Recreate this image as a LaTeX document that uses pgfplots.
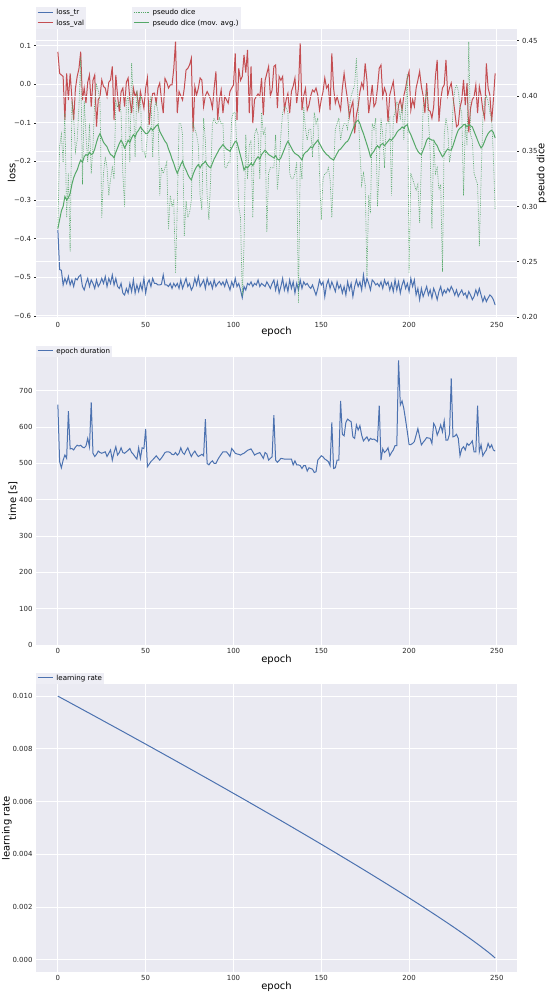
\documentclass[border=0pt]{standalone}
\usepackage{fontspec}
\setmainfont{DejaVu Sans}
\usepackage{pgfplots}
\usepackage{pgfplotstable}
\pgfplotsset{compat=1.18}
\definecolor{bgc}{HTML}{EAEAF2}
\definecolor{legc}{HTML}{EEEEF5}
\definecolor{tc}{HTML}{262626}
\definecolor{cb}{HTML}{4C72B0}
\definecolor{cr}{HTML}{C44E52}
\definecolor{cg}{HTML}{55A868}

\pgfplotstableread{
ep tr val dice ema time
0 -0.377 0.084 0.280 0.280 662
1 -0.480 0.028 0.355 0.288 505
2 -0.482 0.024 0.365 0.296 488
3 -0.520 0.020 0.340 0.300 509
4 -0.503 -0.093 0.385 0.309 523
5 -0.516 0.028 0.290 0.306 514
6 -0.498 -0.041 0.330 0.308 644
7 -0.520 0.028 0.259 0.312 540
8 -0.507 -0.036 0.395 0.320 541
9 -0.524 -0.093 0.380 0.326 537
10 -0.503 -0.011 0.350 0.330 545
11 -0.507 0.020 0.360 0.333 550
12 -0.498 0.040 0.390 0.338 548
13 -0.494 0.084 0.435 0.342 550
14 -0.524 -0.041 0.320 0.340 545
15 -0.533 -0.010 0.395 0.345 543
16 -0.516 -0.049 0.365 0.347 548
17 -0.503 0.005 0.340 0.346 569
18 -0.524 0.024 0.375 0.349 546
19 -0.507 -0.058 0.330 0.347 668
20 -0.516 0.010 0.355 0.348 528
21 -0.529 0.024 0.395 0.352 519
22 -0.507 -0.110 0.410 0.358 525
23 -0.524 -0.040 0.405 0.363 534
24 -0.516 -0.032 0.395 0.366 530
25 -0.503 0.011 0.290 0.362 528
26 -0.516 -0.006 0.330 0.358 530
27 -0.498 -0.010 0.345 0.356 532
28 -0.524 -0.032 0.335 0.354 519
29 -0.503 0.005 0.310 0.350 528
30 -0.516 0.011 0.325 0.347 537
31 -0.494 0.046 0.335 0.346 509
32 -0.520 -0.093 0.325 0.344 530
33 -0.503 0.024 0.395 0.349 546
34 -0.524 -0.030 0.390 0.353 523
35 -0.529 -0.071 0.395 0.357 530
36 -0.516 -0.020 0.385 0.360 543
37 -0.541 -0.010 0.330 0.357 530
38 -0.546 -0.058 0.300 0.353 528
39 -0.529 0.005 0.395 0.356 532
40 -0.541 0.016 0.400 0.360 536
41 -0.516 -0.040 0.340 0.358 541
42 -0.537 -0.075 0.430 0.362 530
43 -0.507 -0.010 0.395 0.365 525
44 -0.541 -0.032 0.345 0.363 518
45 -0.520 -0.020 0.405 0.367 512
46 -0.537 -0.062 0.385 0.369 543
47 -0.516 -0.019 0.400 0.372 514
48 -0.533 -0.040 0.350 0.370 543
49 -0.503 -0.062 0.350 0.368 541
50 -0.541 -0.010 0.345 0.366 595
51 -0.516 0.016 0.365 0.366 491
52 -0.507 -0.105 0.390 0.368 498
53 -0.524 -0.053 0.400 0.371 505
54 -0.503 -0.024 0.345 0.369 510
55 -0.516 -0.023 0.390 0.371 515
56 -0.516 -0.049 0.395 0.373 521
57 -0.520 -0.010 0.385 0.374 515
58 -0.520 0.003 0.310 0.368 509
59 -0.518 -0.040 0.335 0.365 515
60 -0.494 -0.075 0.330 0.362 522
61 -0.520 0.015 0.335 0.359 530
62 -0.520 0.005 0.340 0.357 532
63 -0.524 -0.010 0.279 0.352 532
64 -0.516 -0.002 0.310 0.348 530
65 -0.529 -0.002 0.300 0.343 525
66 -0.516 0.040 0.305 0.339 524
67 -0.524 0.110 0.240 0.334 530
68 -0.516 -0.075 0.300 0.330 523
69 -0.529 -0.019 0.375 0.334 528
70 -0.507 -0.030 0.375 0.338 543
71 -0.529 -0.041 0.365 0.341 530
72 -0.516 -0.010 0.273 0.336 525
73 -0.503 0.037 0.305 0.333 535
74 -0.524 0.041 0.290 0.329 543
75 -0.516 0.050 0.295 0.326 530
76 -0.533 0.067 0.305 0.324 519
77 -0.524 -0.123 0.375 0.329 528
78 -0.503 -0.006 0.370 0.333 534
79 -0.520 -0.028 0.365 0.336 525
80 -0.498 -0.010 0.355 0.338 519
81 -0.524 0.016 0.310 0.335 522
82 -0.516 0.011 0.297 0.338 525
83 -0.507 -0.058 0.380 0.339 521
84 -0.529 -0.030 0.360 0.341 622
85 -0.503 -0.019 0.310 0.338 500
86 -0.520 -0.028 0.288 0.336 496
87 -0.512 -0.040 0.325 0.335 503
88 -0.529 -0.062 0.375 0.339 507
89 -0.507 -0.010 0.380 0.343 500
90 -0.524 0.033 0.375 0.346 500
91 -0.516 -0.093 0.375 0.349 510
92 -0.511 -0.040 0.380 0.352 518
93 -0.520 -0.015 0.375 0.354 525
94 -0.512 -0.075 0.375 0.356 532
95 -0.524 -0.032 0.335 0.354 532
96 -0.507 -0.040 0.335 0.352 532
97 -0.520 -0.049 0.340 0.351 526
98 -0.533 -0.019 0.340 0.350 519
99 -0.512 -0.010 0.380 0.353 541
100 -0.524 -0.002 0.385 0.356 535
101 -0.503 0.080 0.385 0.359 528
102 -0.524 -0.093 0.350 0.358 526
103 -0.516 0.041 0.300 0.352 525
104 -0.533 0.010 0.290 0.346 523
105 -0.553 0.020 0.219 0.340 526
106 -0.524 0.076 0.265 0.333 528
107 -0.533 0.030 0.365 0.336 532
108 -0.516 0.089 0.325 0.335 536
109 -0.520 -0.075 0.355 0.337 538
110 -0.512 0.046 0.360 0.339 540
111 -0.524 -0.101 0.290 0.337 532
112 -0.516 -0.040 0.365 0.340 523
113 -0.520 -0.032 0.370 0.343 526
114 -0.507 -0.025 0.365 0.345 528
115 -0.524 -0.032 0.325 0.343 530
116 -0.516 0.016 0.385 0.347 522
117 -0.520 -0.080 0.365 0.349 514
118 -0.524 0.010 0.370 0.351 530
119 -0.512 0.028 0.277 0.349 526
120 -0.520 0.046 0.330 0.347 509
121 -0.529 -0.030 0.335 0.346 514
122 -0.516 -0.015 0.335 0.345 518
123 -0.507 0.046 0.335 0.344 633
124 -0.533 0.050 0.365 0.346 509
125 -0.512 -0.062 0.315 0.343 503
126 -0.541 0.020 0.335 0.342 508
127 -0.524 0.010 0.365 0.344 514
128 -0.503 0.020 0.385 0.348 513
129 -0.533 -0.067 0.390 0.352 512
130 -0.516 -0.040 0.390 0.356 512
131 -0.537 -0.024 0.385 0.359 512
132 -0.507 -0.075 0.330 0.356 512
133 -0.529 -0.019 0.325 0.353 512
134 -0.512 -0.005 0.325 0.350 496
135 -0.541 0.016 0.330 0.348 507
136 -0.516 -0.049 0.340 0.347 496
137 -0.533 -0.010 0.213 0.346 496
138 -0.507 0.106 0.340 0.344 494
139 -0.529 -0.067 0.325 0.342 486
140 -0.512 -0.030 0.390 0.347 494
141 -0.520 -0.011 0.370 0.349 494
142 -0.516 -0.067 0.360 0.350 479
143 -0.524 -0.054 0.370 0.352 488
144 -0.529 -0.030 0.370 0.354 486
145 -0.520 -0.015 0.345 0.353 484
146 -0.533 -0.020 0.385 0.356 475
147 -0.546 -0.010 0.375 0.358 477
148 -0.529 -0.028 0.380 0.360 509
149 -0.507 -0.067 0.330 0.357 515
150 -0.520 -0.040 0.288 0.354 521
151 -0.512 -0.019 0.325 0.351 518
152 -0.550 0.016 0.330 0.349 512
153 -0.520 -0.010 0.330 0.347 509
154 -0.507 -0.002 0.335 0.346 505
155 -0.529 -0.067 0.325 0.344 494
156 -0.512 0.080 0.290 0.343 613
157 -0.524 -0.010 0.335 0.342 486
158 -0.537 -0.049 0.370 0.345 488
159 -0.512 -0.032 0.375 0.348 509
160 -0.529 -0.050 0.380 0.351 509
161 -0.520 -0.067 0.360 0.352 672
162 -0.541 -0.010 0.370 0.354 580
163 -0.524 0.028 0.375 0.356 576
164 -0.546 -0.010 0.375 0.358 613
165 -0.512 -0.041 0.370 0.359 622
166 -0.533 -0.084 0.390 0.362 618
167 -0.516 -0.060 0.400 0.366 615
168 -0.550 -0.045 0.405 0.370 573
169 -0.524 -0.127 0.410 0.374 569
170 -0.507 -0.080 0.434 0.377 606
171 -0.524 -0.058 0.390 0.378 592
172 -0.512 -0.020 0.350 0.375 604
173 -0.533 0.003 0.320 0.370 578
174 -0.494 -0.010 0.330 0.366 562
175 -0.524 0.054 0.320 0.361 568
176 -0.503 0.010 0.237 0.356 573
177 -0.516 -0.075 0.310 0.351 562
178 -0.533 -0.041 0.294 0.345 569
179 -0.507 -0.002 0.375 0.348 566
180 -0.512 -0.058 0.370 0.350 567
181 -0.520 -0.049 0.380 0.353 564
182 -0.516 -0.010 0.300 0.355 560
183 -0.524 0.041 0.335 0.353 659
184 -0.512 0.050 0.380 0.356 509
185 -0.529 -0.032 0.365 0.357 540
186 -0.507 -0.010 0.335 0.355 530
187 -0.520 -0.024 0.375 0.357 535
188 -0.512 -0.097 0.375 0.359 543
189 -0.533 -0.028 0.380 0.361 521
190 -0.516 -0.010 0.310 0.360 530
191 -0.537 0.007 0.380 0.362 537
192 -0.507 -0.041 0.385 0.364 549
193 -0.533 -0.101 0.395 0.367 549
194 -0.512 -0.054 0.390 0.369 784
195 -0.541 -0.040 0.380 0.370 661
196 -0.520 -0.067 0.390 0.372 672
197 -0.507 -0.030 0.360 0.371 651
198 -0.529 -0.010 0.390 0.373 620
199 -0.516 0.016 0.420 0.374 587
200 -0.537 0.033 0.240 0.368 552
201 -0.503 -0.067 0.330 0.365 552
202 -0.524 -0.040 0.325 0.361 555
203 -0.507 -0.058 0.320 0.357 560
204 -0.546 -0.010 0.315 0.353 578
205 -0.529 0.010 0.320 0.350 596
206 -0.558 0.033 0.285 0.348 573
207 -0.529 -0.006 0.340 0.347 551
208 -0.550 -0.030 0.390 0.351 558
209 -0.537 -0.075 0.395 0.355 564
210 -0.524 0.003 0.405 0.360 571
211 -0.546 -0.067 0.380 0.362 570
212 -0.533 -0.070 0.350 0.361 569
213 -0.554 -0.088 0.280 0.360 555
214 -0.529 -0.058 0.360 0.360 610
215 -0.541 0.020 0.330 0.357 601
216 -0.558 0.063 0.335 0.355 578
217 -0.537 -0.097 0.315 0.351 590
218 -0.524 -0.040 0.320 0.348 606
219 -0.546 -0.010 0.241 0.345 587
220 -0.533 -0.002 0.365 0.347 617
221 -0.541 0.063 0.380 0.350 564
222 -0.529 -0.030 0.370 0.352 564
223 -0.537 -0.010 0.340 0.351 580
224 -0.524 0.003 0.350 0.351 734
225 -0.533 -0.032 0.390 0.355 573
226 -0.546 -0.070 0.405 0.360 575
227 -0.533 -0.110 0.410 0.365 580
228 -0.550 -0.105 0.405 0.369 569
229 -0.541 -0.060 0.390 0.371 521
230 -0.533 -0.041 0.385 0.372 540
231 -0.546 0.011 0.310 0.374 546
232 -0.541 -0.054 0.375 0.374 537
233 -0.554 0.003 0.355 0.372 555
234 -0.537 -0.125 0.449 0.374 550
235 -0.546 -0.062 0.365 0.373 555
236 -0.558 -0.040 0.360 0.372 562
237 -0.550 -0.032 0.330 0.368 532
238 -0.533 -0.002 0.325 0.364 532
239 -0.546 -0.075 0.320 0.360 659
240 -0.529 -0.006 0.264 0.356 532
241 -0.546 -0.030 0.325 0.353 551
242 -0.563 -0.067 0.380 0.355 521
243 -0.550 -0.088 0.395 0.359 530
244 -0.563 0.054 0.400 0.363 537
245 -0.554 -0.010 0.395 0.366 555
246 -0.546 -0.028 0.385 0.368 543
247 -0.550 -0.097 0.380 0.369 551
248 -0.558 -0.041 0.345 0.367 537
249 -0.572 0.028 0.297 0.362 534
}\tbl

\pgfplotstableread{
ep lr
0 0.010000
5 0.009820
10 0.009639
15 0.009458
20 0.009277
25 0.009095
30 0.008913
35 0.008731
40 0.008548
45 0.008364
50 0.008181
55 0.007996
60 0.007811
65 0.007626
70 0.007440
75 0.007254
80 0.007067
85 0.006880
90 0.006692
95 0.006504
100 0.006314
105 0.006125
110 0.005934
115 0.005743
120 0.005551
125 0.005359
130 0.005166
135 0.004971
140 0.004776
145 0.004581
150 0.004384
155 0.004186
160 0.003987
165 0.003787
170 0.003586
175 0.003384
180 0.003180
185 0.002975
190 0.002768
195 0.002560
200 0.002349
205 0.002137
210 0.001922
215 0.001704
220 0.001484
225 0.001259
230 0.001030
235 0.000795
240 0.000552
245 0.000296
247 0.000187
248 0.000130
249 0.0000695
}\lrtbl

\pgfplotsset{
 sb/.style={
  scale only axis, width=481bp, height=288bp,
  xmin=-12.45, xmax=261.45,
  xtick={0,50,100,150,200,250},
  axis background/.style={fill=bgc},
  axis line style={draw=none},
  xmajorgrids, ymajorgrids,
  grid style={white, line width=0.8bp},
  major tick length=0pt,
  /pgf/number format/assume math mode=true,
  tick label style={font=\fontsize{7}{8}\selectfont, text=tc},
  label style={font=\fontsize{7.3}{9}\selectfont, text=tc},
  xlabel={epoch},
  every axis x label/.style={at={(axis description cs:0.5,-0.052)}, anchor=center},
  legend style={fill=legc, draw=none, at={(0,1)}, anchor=south west,
    font=\fontsize{7.1}{8}\selectfont, inner xsep=1bp, inner ysep=0.8bp,
    row sep=1.2bp, column sep=2bp, nodes={inner sep=1.2bp, fill=none}},
  legend cell align=left,
  legend image code/.code={\draw[##1, line width=1.1bp] (0bp,0.5bp) -- (15bp,0.5bp);},
 }
}

\begin{document}
\begin{tikzpicture}
\useasboundingbox (0,0) rectangle (550bp,-997bp);

% ---------- top: losses ----------
\begin{axis}[sb, at={(36bp,-29bp)}, anchor=north west,
  ymin=-0.603, ymax=0.143,
  ytick={-0.6,-0.5,-0.4,-0.3,-0.2,-0.1,0,0.1},
  yticklabels={−0.6,−0.5,−0.4,−0.3,−0.2,−0.1,0.0,0.1},
  ytick pos=left, major tick length=1.5bp, tick align=outside,
  ytick style={draw=tc, line width=0.5bp}, xtick style={draw=none},
  ylabel={loss},
  every axis y label/.style={at={(axis description cs:-0.0505,0.5)}, rotate=90, anchor=center},
]
\addplot[draw=cb, line width=1bp] table[x=ep, y=tr] {\tbl};
\addlegendentry{loss\_tr}
\addplot[draw=cr, line width=1bp] table[x=ep, y=val] {\tbl};
\addlegendentry{loss\_val}
\end{axis}

\begin{axis}[sb, at={(36bp,-29bp)}, anchor=north west,
  axis background/.style={}, hide x axis, xmajorgrids=false,
  ymin=0.2, ymax=0.4606,
  ytick={0.2,0.25,0.3,0.35,0.4,0.45},
  yticklabels={0.20,0.25,0.30,0.35,0.40,0.45},
  ytick pos=right, yticklabel pos=right, major tick length=1.5bp, tick align=outside,
  ytick style={draw=tc, line width=0.5bp},
  ylabel={pseudo dice},
  every axis y label/.style={at={(axis description cs:1.0514,0.5)}, rotate=90, anchor=center},
  legend style={at={(0.2,1)}, anchor=south west},
]
\addplot[draw=cg, line width=0.7bp, dash pattern=on 0.7bp off 1.1bp] table[x=ep, y=dice] {\tbl};
\addlegendentry{pseudo dice}
\addplot[draw=cg, line width=1bp] table[x=ep, y=ema] {\tbl};
\addlegendentry{pseudo dice (mov. avg.)}
\end{axis}

% ---------- middle: epoch duration ----------
\begin{axis}[sb, at={(36bp,-357bp)}, anchor=north west,
  ymin=0, ymax=793,
  ytick={0,100,200,300,400,500,600,700},
  yticklabels={0,100,200,300,400,500,600,700},
  ylabel={time [s]},
  every axis y label/.style={at={(axis description cs:-0.0478,0.5)}, rotate=90, anchor=center},
]
\addplot[draw=cb, line width=1bp] table[x=ep, y=time] {\tbl};
\addlegendentry{epoch duration}
\end{axis}

% ---------- bottom: learning rate ----------
\begin{axis}[sb, at={(36bp,-684bp)}, anchor=north west,
  ymin=-0.00046, ymax=0.01046,
  ytick={0,0.002,0.004,0.006,0.008,0.010},
  yticklabels={0.000,0.002,0.004,0.006,0.008,0.010},
  scaled y ticks=false,
  ylabel={learning rate},
  every axis y label/.style={at={(axis description cs:-0.0603,0.5)}, rotate=90, anchor=center},
]
\addplot[draw=cb, line width=1bp] table[x=ep, y=lr] {\lrtbl};
\addlegendentry{learning rate}
\end{axis}
\end{tikzpicture}
\end{document}
